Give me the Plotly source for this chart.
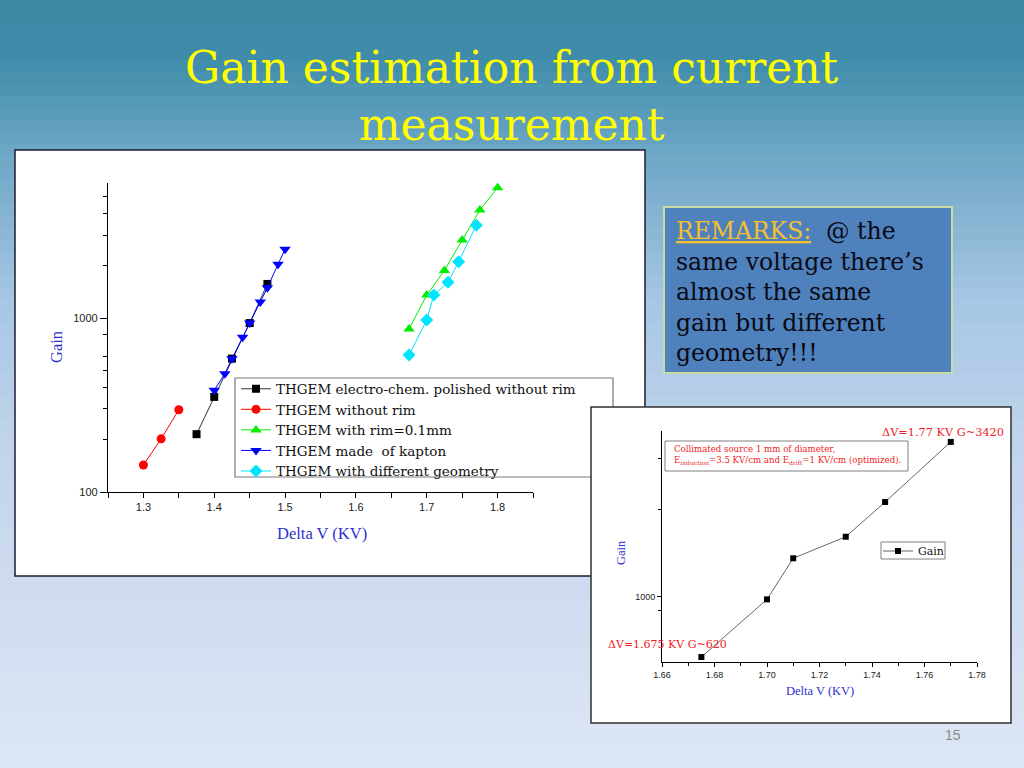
import numpy as np
import plotly.graph_objects as go

W, H = 1024, 768

# ---------------- data ----------------
polished_v = [1.375, 1.40, 1.425, 1.45, 1.475]
polished_g = [215, 352, 584, 935, 1570]
norim_v = [1.30, 1.325, 1.35]
norim_g = [143, 202, 297]
rim_v = [1.675, 1.70, 1.725, 1.75, 1.775, 1.80]
rim_g = [865, 1355, 1878, 2808, 4178, 5613]
kapton_v = [1.40, 1.415, 1.425, 1.44, 1.45, 1.465, 1.475, 1.49, 1.50]
kapton_g = [385, 479, 584, 776, 935, 1236, 1494, 2037, 2484]
geom_v = [1.675, 1.70, 1.71, 1.73, 1.745, 1.77]
geom_g = [612, 975, 1355, 1604, 2107, 3413]

series_names = [
    "THGEM electro-chem. polished without rim",
    "THGEM without rim",
    "THGEM with rim=0.1mm",
    "THGEM made  of kapton",
    "THGEM with different geometry",
]

inset_v = [1.675, 1.70, 1.71, 1.73, 1.745, 1.77]
inset_g = [620, 980, 1358, 1611, 2123, 3420]

main_xticks = [1.3, 1.4, 1.5, 1.6, 1.7, 1.8]
main_yticks = [100, 1000]
main_yminor = [200, 300, 400, 500, 600, 800, 2000, 3000, 4000, 5000]
inset_xticks = [1.66, 1.68, 1.70, 1.72, 1.74, 1.76, 1.78]
inset_yticks = [1000]
inset_yminor = [900, 2000, 3000]


def px(x):
    return x / W


def py(y):
    return 1 - y / H


fig = go.Figure()

styles = [
    dict(color="#000000", symbol="square", size=8),
    dict(color="#ff0000", symbol="circle", size=9),
    dict(color="#00ee00", symbol="triangle-up", size=10),
    dict(color="#0000ff", symbol="triangle-down", size=10),
    dict(color="#00e5ff", symbol="diamond", size=10),
]
data = [(polished_v, polished_g), (norim_v, norim_g), (rim_v, rim_g),
        (kapton_v, kapton_g), (geom_v, geom_g)]
for (xv, yv), name, st in zip(data, series_names, styles):
    line_col = "#333333" if st["color"] == "#000000" else st["color"]
    fig.add_trace(go.Scatter(
        x=xv, y=yv, name=name, mode="lines+markers",
        line=dict(color=line_col, width=1),
        marker=dict(color=st["color"], symbol=st["symbol"], size=st["size"]),
        xaxis="x", yaxis="y", legend="legend",
    ))

fig.add_trace(go.Scatter(
    x=inset_v, y=inset_g, name="Gain", mode="lines+markers",
    line=dict(color="#404040", width=0.8),
    marker=dict(color="#000000", symbol="square", size=6),
    xaxis="x2", yaxis="y2", legend="legend2",
))

# ---------------- background shapes ----------------
shapes = []
stops_y = [0, 60, 150, 300, 450, 768]
stops_c = np.array([
    [57, 135, 163],
    [63, 141, 171],
    [108, 166, 197],
    [166, 198, 228],
    [194, 212, 236],
    [222, 230, 245],
])
n = 64
h = H / n
for i in range(n):
    yc = (i + 0.5) * h
    c = [int(round(np.interp(yc, stops_y, stops_c[:, k]))) for k in range(3)]
    shapes.append(dict(type="rect", xref="paper", yref="paper", layer="below",
                       x0=-0.05, x1=1.05, y0=py((i + 1) * h + 0.5), y1=py(i * h),
                       fillcolor="rgb(%d,%d,%d)" % tuple(c), line=dict(width=0)))

# main panel
shapes.append(dict(type="rect", xref="paper", yref="paper", layer="below",
                   x0=px(15), x1=px(645), y0=py(576), y1=py(150),
                   fillcolor="white", line=dict(color="#1c1c30", width=1.5)))
# main legend border
shapes.append(dict(type="rect", xref="paper", yref="paper", layer="below",
                   x0=px(235), x1=px(613), y0=py(477), y1=py(378),
                   fillcolor="rgba(0,0,0,0)", line=dict(color="#7a7a7a", width=1.2)))
# remarks box
shapes.append(dict(type="rect", xref="paper", yref="paper", layer="below",
                   x0=px(664), x1=px(952), y0=py(373), y1=py(207),
                   fillcolor="#4f81bd", line=dict(color="#c6dba6", width=2)))
# inset panel
shapes.append(dict(type="rect", xref="paper", yref="paper", layer="below",
                   x0=px(591), x1=px(1011), y0=py(723), y1=py(407),
                   fillcolor="white", line=dict(color="#303030", width=1.5)))
# inset info box
shapes.append(dict(type="rect", xref="paper", yref="paper", layer="below",
                   x0=px(665), x1=px(908), y0=py(471), y1=py(441),
                   fillcolor="white", line=dict(color="#808080", width=1)))
# inset legend box
shapes.append(dict(type="rect", xref="paper", yref="paper", layer="below",
                   x0=px(881), x1=px(945), y0=py(559), y1=py(542),
                   fillcolor="white", line=dict(color="#808080", width=1)))

# ---------------- annotations ----------------
blue = "#2f2fd0"
red = "#ee1c24"
ann = []
ann.append(dict(xref="paper", yref="paper", x=0.5, y=py(96), xanchor="center",
                yanchor="middle", showarrow=False, align="center",
                text="Gain estimation from current<br>measurement",
                font=dict(family="DejaVu Serif", size=44, color="#ffff00")))
ann.append(dict(xref="paper", yref="paper", x=px(674), y=py(291.5), xanchor="left",
                yanchor="middle", showarrow=False, align="left",
                text='<span style="color:#f5c030"><u>REMARKS:</u></span>\u00a0\u00a0@ the<br>'
                     'same voltage there\u2019s<br>almost the same<br>gain but different<br>geometry!!!',
                font=dict(family="DejaVu Serif", size=23.5, color="#0a0a14")))
ann.append(dict(xref="paper", yref="paper", x=px(56), y=py(347), textangle=-90,
                xanchor="center", yanchor="middle", showarrow=False, text="Gain",
                font=dict(family="Liberation Serif", size=16.5, color=blue)))
ann.append(dict(xref="paper", yref="paper", x=px(322), y=py(533),
                xanchor="center", yanchor="middle", showarrow=False, text="Delta V (KV)",
                font=dict(family="Liberation Serif", size=16.5, color=blue)))
ann.append(dict(xref="paper", yref="paper", x=px(621), y=py(553), textangle=-90,
                xanchor="center", yanchor="middle", showarrow=False, text="Gain",
                font=dict(family="Liberation Serif", size=12.5, color=blue)))
ann.append(dict(xref="paper", yref="paper", x=px(820), y=py(691),
                xanchor="center", yanchor="middle", showarrow=False, text="Delta V (KV)",
                font=dict(family="Liberation Serif", size=12.5, color=blue)))
ann.append(dict(xref="paper", yref="paper", x=px(943), y=py(432),
                xanchor="center", yanchor="middle", showarrow=False,
                text="\u0394V=1.77 KV G~3420",
                font=dict(family="DejaVu Serif", size=11.3, color=red)))
ann.append(dict(xref="paper", yref="paper", x=px(667), y=py(644),
                xanchor="center", yanchor="middle", showarrow=False,
                text="\u0394V=1.675 KV G~620",
                font=dict(family="DejaVu Serif", size=11, color=red)))
ann.append(dict(xref="paper", yref="paper", x=px(672), y=py(455),
                xanchor="left", yanchor="middle", showarrow=False, align="left",
                text="Collimated source 1 mm of diameter,<br>"
                     "E<sub>induction</sub>=3.5 KV/cm and E<sub>drift</sub>=1 KV/cm (optimized).",
                font=dict(family="DejaVu Serif", size=8.6, color=red)))
ann.append(dict(xref="paper", yref="paper", x=px(953), y=py(735),
                xanchor="center", yanchor="middle", showarrow=False, text="15",
                font=dict(family="Liberation Sans", size=14, color="#8a8a8a")))

tickfont_main = dict(family="Liberation Sans", size=11, color="#222222")
tickfont_inset = dict(family="Liberation Sans", size=9, color="#222222")

fig.update_layout(
    width=W, height=H,
    autosize=False,
    margin=dict(l=0, r=0, t=0, b=0, pad=0, autoexpand=False),
    paper_bgcolor="#dde6f5",
    plot_bgcolor="rgba(0,0,0,0)",
    shapes=shapes,
    annotations=ann,
    xaxis=dict(domain=[px(108), px(533)], range=[1.25, 1.85], anchor="y",
               automargin=False,
               showgrid=False, zeroline=False, showline=True, linecolor="black",
               linewidth=1.2, ticks="outside", ticklen=5, tickcolor="black",
               tickvals=main_xticks, ticktext=[f"{v:.1f}" for v in main_xticks],
               tickfont=tickfont_main,
               minor=dict(dtick=0.05, tick0=1.25, ticks="outside", ticklen=5,
                          tickcolor="black", showgrid=False)),
    yaxis=dict(domain=[py(492), py(183)], type="log", range=[2, 3.776], anchor="x",
               automargin=False,
               showgrid=False, zeroline=False, showline=True, linecolor="black",
               linewidth=1.2, ticks="outside", ticklen=7, tickcolor="black",
               tickvals=main_yticks, ticktext=["100", "1000"], tickfont=tickfont_main,
               minor=dict(tickmode="array", tickvals=main_yminor, ticks="outside",
                          ticklen=4, tickcolor="black", showgrid=False)),
    xaxis2=dict(domain=[px(662), px(977)], range=[1.66, 1.78], anchor="y2",
                automargin=False,
                showgrid=False, zeroline=False, showline=True, linecolor="black",
                linewidth=1, ticks="outside", ticklen=4, tickcolor="black",
                tickvals=inset_xticks, ticktext=[f"{v:.2f}" for v in inset_xticks],
                tickfont=tickfont_inset,
                minor=dict(dtick=0.01, tick0=1.66, ticks="outside", ticklen=3,
                           tickcolor="black", showgrid=False)),
    yaxis2=dict(domain=[py(662), py(431)], type="log",
                range=[np.log10(596), np.log10(3730)], anchor="x2",
                automargin=False,
                showgrid=False, zeroline=False, showline=True, linecolor="black",
                linewidth=1, ticks="outside", ticklen=4, tickcolor="black",
                tickvals=inset_yticks, ticktext=["1000"], tickfont=tickfont_inset,
                minor=dict(tickmode="array", tickvals=inset_yminor, ticks="outside",
                           ticklen=3, tickcolor="black", showgrid=False)),
    legend=dict(x=px(236), y=py(373.5), xanchor="left", yanchor="top",
                bgcolor="rgba(0,0,0,0)", borderwidth=0, itemwidth=30,
                tracegroupgap=0, font=dict(family="DejaVu Serif", size=13.5, color="#111111")),
    legend2=dict(x=px(878), y=py(536.5), xanchor="left", yanchor="top",
                 bgcolor="rgba(0,0,0,0)", borderwidth=0, itemwidth=30,
                 font=dict(family="DejaVu Serif", size=11, color="#111111")),
    showlegend=True,
)

fig.write_html(
    "out.html",
    config={"displayModeBar": False, "responsive": False},
    post_script="document.documentElement.style.margin='0';"
                "document.body.style.margin='0';document.body.style.padding='0';"
                "document.body.style.overflow='hidden';"
                "var d=document.getElementById('{plot_id}');"
                "d.style.position='fixed';d.style.left='0px';d.style.top='0px';",
)
